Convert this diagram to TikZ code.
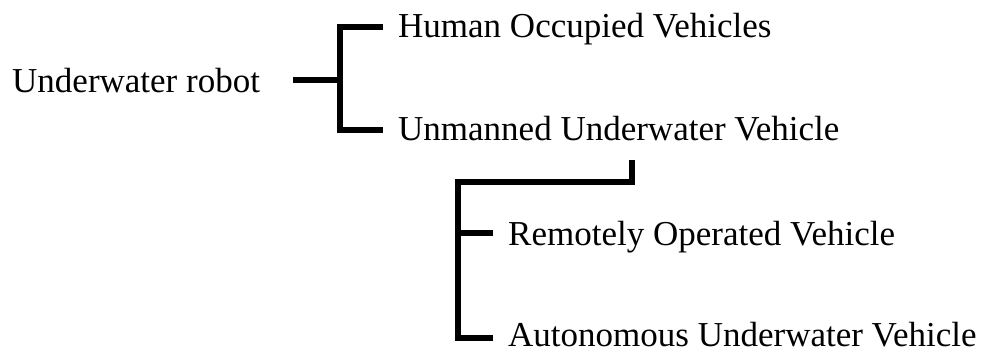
\documentclass[tikz,border=0pt]{standalone}
\usepackage{fontspec}
\setmainfont{Liberation Serif}
\begin{document}
\begin{tikzpicture}[x=1pt,y=-1pt,
  label/.style={anchor=base west,inner sep=0pt,text depth=0pt,font=\fontsize{35}{40}\selectfont},
  bracket/.style={line width=6pt,line cap=butt,line join=miter}]
\useasboundingbox (0,0) rectangle (983,352);
% labels
\node[label] (root) at (12,93) {Underwater robot};
\node[label] (hov) at (398,38) {Human Occupied Vehicles};
\node[label] (uuv) at (398,141) {Unmanned Underwater Vehicle};
\node[label] (rov) at (508,246) {Remotely Operated Vehicle};
\node[label] (auv) at (508,347) {Autonomous Underwater Vehicle};
% junction points of the brackets
\coordinate (rootend) at (293,80);
\coordinate (j1) at (340,80);
\coordinate (hovin) at (383,27);
\coordinate (uuvin) at (383,130);
\coordinate (uuvout) at (632,160);
\coordinate (j2) at (458,182);
\coordinate (rovin) at (493,233);
\coordinate (auvin) at (493,338);
% first level
\draw[bracket] (rootend) -- (j1);
\draw[bracket] (hovin) -| (j1 |- uuvin) -- (uuvin);
% second level
\draw[bracket] (uuvout) |- (j2) |- (auvin);
\draw[bracket] (j2 |- rovin) -- (rovin);
\end{tikzpicture}
\end{document}
